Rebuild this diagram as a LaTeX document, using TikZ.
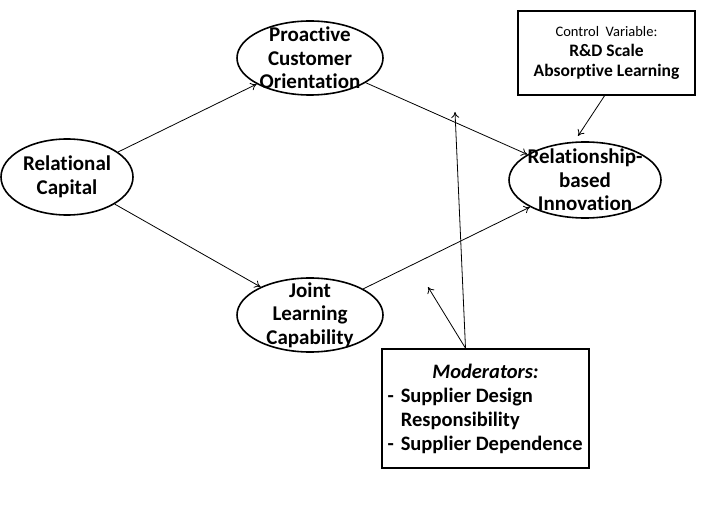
\documentclass[tikz,border=0pt]{standalone}
\usepackage{fontspec}
\setmainfont{Carlito}[Ligatures=NoCommon]
\usepackage{tikz}
\usetikzlibrary{arrows.meta,calc,shapes.geometric}

\begin{document}
\begin{tikzpicture}[x=1pt,y=-1pt,>={To[length=6pt,width=8pt]},
  constructo/.style={ellipse,draw,line width=1.6pt,inner sep=0pt},
  rotulo/.style={align=center,inner sep=0pt,font=\fontsize{21}{23.5}\selectfont\bfseries},
  cuadro/.style={draw,line width=1.6pt,inner sep=0pt},
  flecha/.style={->,line width=0.8pt}]
  \useasboundingbox (0,0) rectangle (708,526);
  % constructs
  \node[constructo,minimum width=132pt,minimum height=76pt,
    label={[rotulo]center:Relational\\Capital}] (RC) at (67,177) {};
  \node[constructo,minimum width=146pt,minimum height=74pt,
    label={[rotulo]center:Proactive\\Customer\\Orientation}] (PCO) at (310,58) {};
  \node[constructo,minimum width=146pt,minimum height=74pt,
    label={[rotulo]center:Joint\\Learning\\Capability}] (JLC) at (310,315) {};
  \node[constructo,minimum width=152pt,minimum height=76pt,
    label={[rotulo]center:Relationship-\\based\\Innovation}] (RBI) at (585,180) {};
  % boxes
  \node[cuadro,minimum width=177pt,minimum height=84pt,align=center,
    font=\fontsize{17.5}{20}\selectfont] (CV) at (606.5,53)
    {{\fontsize{14.5}{20}\selectfont Control~ Variable:}\\
     \textbf{R\&D Scale}\\
     \textbf{Absorptive Learning}};
  \node[cuadro,minimum width=207pt,minimum height=119pt,align=left,
    font=\fontsize{20.5}{24}\selectfont\bfseries] (MOD) at (485.5,408.5)
    {\makebox[196pt][c]{\textit{Moderators:}}\\
     -\hspace{7pt}Supplier Design\\
     \phantom{-}\hspace{7pt}Responsibility\\
     -\hspace{7pt}Supplier Dependence};
  % paths
  \draw[flecha] (RC) -- (PCO);
  \draw[flecha] (RC) -- (JLC);
  \draw[flecha] (PCO) -- (RBI);
  \draw[flecha] (JLC) -- (RBI);
  \coordinate (cvfin) at (578,136);
  \draw[flecha] ($(CV.south)+(-2,0)$) -- (cvfin);
  % moderating effects
  \coordinate (modtop) at ($(MOD.north)+(-20,0)$);
  \coordinate (enPCO) at (455,112);
  \coordinate (enJLC) at (428,287);
  \draw[flecha] (modtop) -- (enPCO);
  \draw[flecha] (modtop) -- (enJLC);
\end{tikzpicture}
\end{document}
